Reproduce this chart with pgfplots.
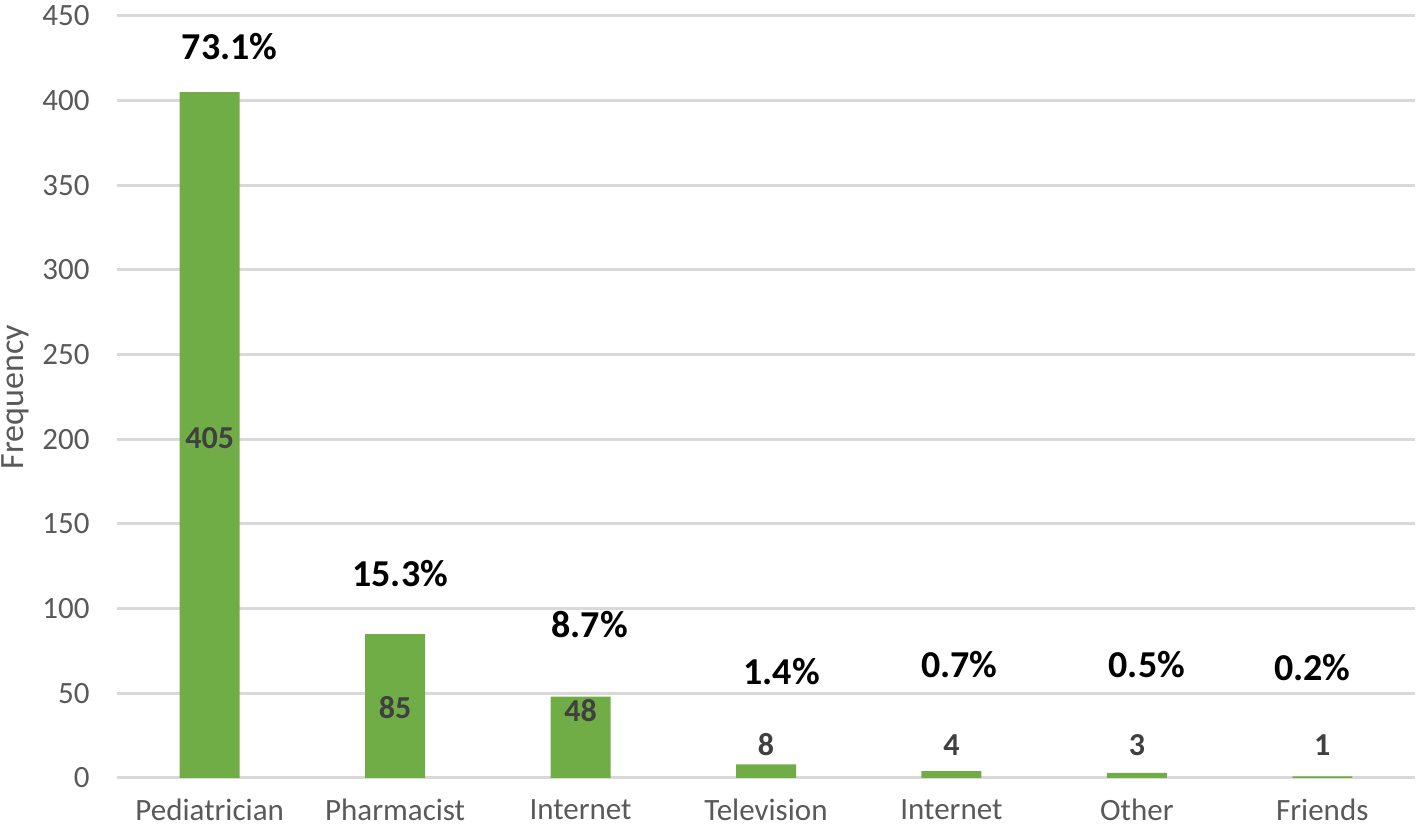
\documentclass[border=0pt]{standalone}
\usepackage{pgfplots}
\pgfplotsset{compat=1.18}
\usepackage{fontspec}
\setmainfont{Carlito}
\definecolor{bargreen}{HTML}{70AD47}
\definecolor{gridgray}{HTML}{D9D9D9}
\definecolor{ticktext}{HTML}{595959}
\definecolor{labtext}{HTML}{404040}
\begin{document}
\begin{tikzpicture}
\begin{axis}[
  name=ax,
  scale only axis,
  width=649pt, height=381pt,
  xmin=-0.5, xmax=6.5,
  ymin=0, ymax=450,
  ytick={0,50,...,450},
  xtick={0,1,2,3,4,5,6},
  xticklabels={Pediatrician,Pharmacist,Internet,Television,Internet,Other,Friends},
  axis line style={draw=none},
  major tick length=0pt,
  ymajorgrids,
  grid style={gridgray, line width=1.5pt},
  /pgf/number format/assume math mode=true,
  yticklabel style={font=\fontsize{15.5}{18}\selectfont, text=ticktext, inner sep=0pt, anchor=east, xshift=-13.5pt},
  xticklabel style={font=\fontsize{15.5}{18}\selectfont, text=ticktext, inner sep=0pt, anchor=north, yshift=-10.5pt},
  ylabel={Frequency},
  ylabel style={font=\fontsize{17}{20}\selectfont, text=ticktext, at={(rel axis cs:0,0.5)}, anchor=center, inner sep=0pt, yshift=51pt},
  clip=false,
]
\addplot[ybar, bar width=30pt, fill=bargreen, draw=none] coordinates {
  (0,405) (1,85) (2,48) (3,8) (4,4) (5,3) (6,1)
};
% inside value labels
\addplot[draw=none, mark=none, nodes near coords, point meta=explicit symbolic,
  every node near coord/.style={font=\fontsize{16}{19}\selectfont\bfseries, text=labtext, anchor=center, inner sep=0pt}]
  table[meta=lab] {
x y lab
0 201 405
1 41.4 85
2 39.6 48
3 19.5 8
4 19.5 4
5 19.5 3
6 19.5 1
};
% percentage labels
\addplot[draw=none, mark=none, nodes near coords={\pgfplotspointmeta\%}, point meta=explicit symbolic,
  every node near coord/.style={font=\fontsize{19}{22}\selectfont\bfseries, text=black, anchor=center, inner sep=0pt}]
  table[meta=lab] {
x y lab
0.108 432 73.1
1.027 121 15.3
2.049 90.4 8.7
3.084 62.6 1.4
4.043 66.8 0.7
5.054 66.8 0.5
5.946 65 0.2
};
\end{axis}
\pgfresetboundingbox
\path[use as bounding box] ([xshift=-58.5pt,yshift=-25pt]ax.south west) rectangle ([xshift=4.5pt,yshift=8pt]ax.north east);
\end{tikzpicture}
\end{document}
